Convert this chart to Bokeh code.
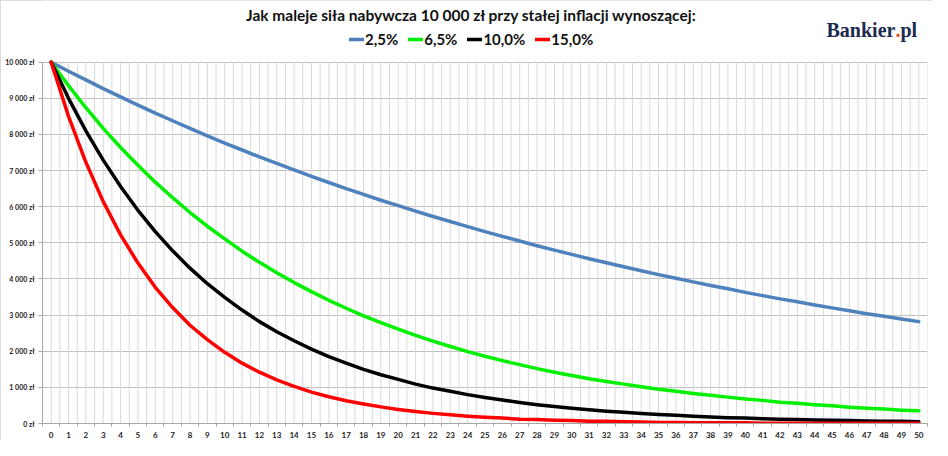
from bokeh.plotting import figure
from bokeh.models import FixedTicker, Legend, LegendItem, Label
from bokeh.embed import file_html
from bokeh.resources import INLINE

years = list(range(51))
year_labels = [str(y) for y in years]

y_ticks = list(range(0, 10001, 1000))
y_tick_labels = ["0 zł", "1 000 zł", "2 000 zł", "3 000 zł", "4 000 zł", "5 000 zł",
                 "6 000 zł", "7 000 zł", "8 000 zł", "9 000 zł", "10 000 zł"]

series_names = ["2,5%", "6,5%", "10,0%", "15,0%"]

s_2_5 = [10000, 9750, 9510, 9270, 9040, 8810, 8590, 8380, 8170, 7960,
         7760, 7570, 7380, 7200, 7020, 6840, 6670, 6500, 6340, 6180,
         6030, 5880, 5730, 5590, 5450, 5310, 5180, 5050, 4920, 4800,
         4680, 4560, 4450, 4340, 4230, 4120, 4020, 3920, 3820, 3730,
         3630, 3540, 3450, 3370, 3280, 3200, 3120, 3040, 2970, 2890, 2820]
s_6_5 = [10000, 9350, 8740, 8170, 7640, 7150, 6680, 6250, 5840, 5460,
         5110, 4770, 4460, 4170, 3900, 3650, 3410, 3190, 2980, 2790,
         2610, 2440, 2280, 2130, 1990, 1860, 1740, 1630, 1520, 1420,
         1330, 1240, 1160, 1090, 1020, 950, 890, 830, 780, 730,
         680, 640, 590, 560, 520, 490, 450, 420, 400, 370, 350]
s_10_0 = [10000, 9000, 8100, 7290, 6560, 5900, 5310, 4780, 4300, 3870,
          3490, 3140, 2820, 2540, 2290, 2060, 1850, 1670, 1500, 1350,
          1220, 1090, 980, 890, 800, 720, 650, 580, 520, 470,
          420, 380, 340, 310, 280, 250, 230, 200, 180, 160,
          150, 130, 120, 110, 100, 90, 80, 70, 60, 60, 50]
s_15_0 = [10000, 8500, 7230, 6140, 5220, 4440, 3770, 3210, 2720, 2320,
          1970, 1670, 1420, 1210, 1030, 870, 740, 630, 540, 460,
          390, 330, 280, 240, 200, 170, 150, 120, 110, 90,
          80, 60, 60, 50, 40, 30, 30, 20, 20, 20,
          20, 10, 10, 10, 10, 10, 10, 5, 5, 5, 5]

colors = ["#4f81bd", "#00f000", "#000000", "#ff0000"]
FONT = "Lato"

W, H = 932, 440
BOTTOM = 15
LEFT = 42
RIGHT = 5
FRAME_H = H - BOTTOM
TOP_PX = 62  # pixel position of the 10 000 line from figure top
Y_END = 10000 * FRAME_H / (FRAME_H - TOP_PX)

p = figure(width=W, height=H, x_range=(-0.5, 50.5), y_range=(0, Y_END),
           output_backend="svg", toolbar_location=None,
           min_border_left=LEFT, min_border_right=RIGHT, min_border_top=0, min_border_bottom=BOTTOM)
p.styles = {"outline": "2px solid #d0d0d0", "outline-offset": "-2px"}
p.outline_line_color = None
p.background_fill_color = "white"
p.border_fill_color = "white"

# grids: vertical lines every half category, bounded to the value range
p.xgrid.visible = False
grid_x = [i * 0.5 - 0.5 for i in range(103)]
p.segment(x0=grid_x, y0=[0] * len(grid_x), x1=grid_x, y1=[10000] * len(grid_x),
          line_color="#d9d9d9", line_width=1)
p.ygrid.ticker = FixedTicker(ticks=y_ticks)
p.ygrid.grid_line_color = "#bfbfbf"

# x axis
p.xaxis.ticker = FixedTicker(ticks=years, minor_ticks=[i - 0.5 for i in range(52)])
p.xaxis.major_label_overrides = {y: l for y, l in zip(years, year_labels)}
p.xaxis.major_tick_line_color = None
p.xaxis.major_tick_out = 0
p.xaxis.major_tick_in = 0
p.xaxis.minor_tick_out = 3
p.xaxis.minor_tick_in = 0
p.xaxis.minor_tick_line_color = "#a6a6a6"
p.xaxis.axis_line_color = "#a6a6a6"
p.xaxis.major_label_text_font = FONT
p.xaxis.major_label_text_font_style = "bold"
p.xaxis.major_label_text_font_size = "8px"
p.xaxis.major_label_text_color = "#222222"
p.xaxis.major_label_standoff = 5

# y axis
p.yaxis.ticker = FixedTicker(ticks=y_ticks)
p.yaxis.bounds = (0, 10000)
p.yaxis.major_label_overrides = {t: l for t, l in zip(y_ticks, y_tick_labels)}
p.yaxis.major_tick_out = 4
p.yaxis.major_tick_in = 0
p.yaxis.minor_tick_line_color = None
p.yaxis.major_tick_line_color = "#a6a6a6"
p.yaxis.axis_line_color = "#a6a6a6"
p.yaxis.major_label_text_font = FONT
p.yaxis.major_label_text_font_style = "bold"
p.yaxis.major_label_text_font_size = "7px"
p.yaxis.major_label_text_color = "#222222"
p.yaxis.major_label_standoff = 4

items = []
for name, ys, c in zip(series_names, [s_2_5, s_6_5, s_10_0, s_15_0], colors):
    r = p.line(years, ys, line_color=c, line_width=3.5, line_join="round", line_cap="round")
    items.append(LegendItem(label=name, renderers=[r]))

legend = Legend(items=items, orientation="horizontal", location=(307, FRAME_H - 41 - 9),
                label_text_font=FONT, label_text_font_style="bold",
                label_text_font_size="15px", label_text_color="#111111",
                glyph_width=15, glyph_height=18, label_standoff=1, spacing=10,
                padding=0, margin=0, border_line_color=None, background_fill_alpha=0)
p.add_layout(legend, "center")

title = Label(x=429, y=FRAME_H - 16, x_units="screen", y_units="screen",
              text="Jak maleje siła nabywcza 10 000 zł przy stałej inflacji wynoszącej:",
              text_font=FONT, text_font_style="bold", text_font_size="15.5px",
              text_align="center", text_baseline="middle", text_color="#111111")
p.add_layout(title)

logo_color = "#1b2a4f"
LOGO_Y = FRAME_H - 31
LOGO_X = 784
LOGO_SIZE = "20px"
p.add_layout(Label(x=LOGO_X, y=LOGO_Y, x_units="screen", y_units="screen", text="Bankier",
                   text_font="Liberation Serif", text_font_style="bold", text_font_size=LOGO_SIZE,
                   text_color=logo_color, text_baseline="alphabetic"))
p.add_layout(Label(x=LOGO_X + 69, y=LOGO_Y, x_units="screen", y_units="screen", text=".",
                   text_font="Liberation Serif", text_font_style="bold", text_font_size=LOGO_SIZE,
                   text_color="#e8501a", text_baseline="alphabetic"))
p.add_layout(Label(x=LOGO_X + 74, y=LOGO_Y, x_units="screen", y_units="screen", text="pl",
                   text_font="Liberation Serif", text_font_style="bold", text_font_size=LOGO_SIZE,
                   text_color=logo_color, text_baseline="alphabetic"))

open("out.html", "w").write(file_html(p, INLINE))
